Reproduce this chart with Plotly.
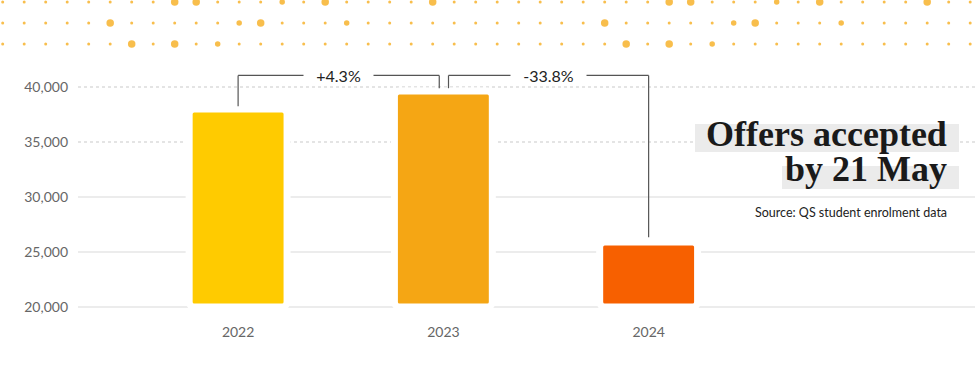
import plotly.graph_objects as go

# ---------------- data ----------------
years = ["2022", "2023", "2024"]
offers = [38000, 39640, 25900]
bar_colors = ["#FFCB00", "#F5A614", "#F76000"]
changes = ["+4.3%", "-33.8%"]
y_ticks = [20000, 25000, 30000, 35000, 40000]
y_tick_labels = ["20,000", "25,000", "30,000", "35,000", "40,000"]
title_lines = ["Offers accepted", "by 21 May"]
source_text = "Source: QS student enrolment data"

# decorative dot pattern (repeats every 23 columns)
dot_period = 23
dot_cols = 46
big_dots = {0: [8, 9, 15, 20], 1: [5, 12], 2: [6, 8]}
mid_dots = {0: [13], 1: [11, 16], 2: [10]}

# ---------------- geometry helpers ----------------
W, H = 975, 369
BASE = 20000


def px_x(p):
    return p / W


def px_y(p):
    return (H - p) / H


fig = go.Figure()

fig.add_trace(go.Bar(
    x=years,
    y=[v - BASE for v in offers],
    base=[BASE] * len(offers),
    width=0.477,
    marker=dict(color=bar_colors, line=dict(color="white", width=7)),
    hoverinfo="skip",
    xaxis="x", yaxis="y",
))

dx, dy = [], []
sizes = []
row_y = [2, 23, 44]
for r in range(3):
    for c in range(dot_cols):
        dx.append(2.7 + 21.5 * c)
        dy.append(row_y[r])
        k = c % dot_period
        if k in big_dots[r]:
            sizes.append(7.5)
        elif k in mid_dots[r]:
            sizes.append(5.5)
        else:
            sizes.append(3)
fig.add_trace(go.Scatter(
    x=dx, y=dy, mode="markers",
    marker=dict(color="#F5A300", size=sizes, line=dict(width=0)),
    hoverinfo="skip", cliponaxis=False,
    xaxis="x2", yaxis="y2",
))

shapes = []
for t in y_ticks:
    dotted = t > 30000
    shapes.append(dict(
        type="line", xref="paper", yref="y",
        x0=px_x(78), x1=1, y0=t, y1=t, layer="below",
        line=dict(color="#c9c9c9" if dotted else "#e6e6e6",
                  width=1 if dotted else 1.5,
                  dash="dot" if dotted else "solid"),
    ))

shapes.append(dict(type="rect", xref="paper", yref="paper",
                   x0=px_x(695), x1=px_x(959), y0=px_y(152), y1=px_y(124),
                   fillcolor="#ebebeb", line=dict(width=0), layer="below"))
shapes.append(dict(type="rect", xref="paper", yref="paper",
                   x0=px_x(782), x1=px_x(959), y0=px_y(189), y1=px_y(166),
                   fillcolor="#ebebeb", line=dict(width=0), layer="below"))

bracket_level = 41050
leg_gap = 250
annotations = []
for i, label in enumerate(changes):
    xa = i + (0.0 if i == 0 else 0.025)
    xb = i + 1 + (-0.02 if i == 0 else 0.0)
    ya = offers[i] + leg_gap
    yb = offers[i + 1] + (leg_gap if i == 0 else 450)
    line = dict(color="#555555", width=1.2)
    shapes.append(dict(type="line", xref="x", yref="y", x0=xa, x1=xa,
                       y0=ya, y1=bracket_level, line=line, layer="above"))
    shapes.append(dict(type="line", xref="x", yref="y", x0=xa, x1=xb,
                       y0=bracket_level, y1=bracket_level, line=line, layer="above"))
    shapes.append(dict(type="line", xref="x", yref="y", x0=xb, x1=xb,
                       y0=bracket_level, y1=yb, line=line, layer="above"))
    annotations.append(dict(
        xref="x", yref="y", x=(xa + xb) / 2, y=bracket_level,
        text="\u00a0\u00a0\u00a0" + label + "\u00a0\u00a0\u00a0",
        showarrow=False, bgcolor="white", borderpad=0,
        font=dict(family="Lato", size=16, color="#222222"),
        xanchor="center", yanchor="middle",
    ))

annotations.append(dict(
    xref="paper", yref="paper", x=px_x(949), y=px_y(134),
    text="<b>" + title_lines[0] + "</b>", showarrow=False,
    xanchor="right", yanchor="middle",
    font=dict(family="Liberation Serif", size=36, color="#1a1a1a"),
))
annotations.append(dict(
    xref="paper", yref="paper", x=px_x(949), y=px_y(169),
    text="<b>" + title_lines[1] + "</b>", showarrow=False,
    xanchor="right", yanchor="middle",
    font=dict(family="Liberation Serif", size=36, color="#1a1a1a"),
))
annotations.append(dict(
    xref="paper", yref="paper", x=px_x(949), y=px_y(213),
    text=source_text, showarrow=False,
    xanchor="right", yanchor="middle",
    font=dict(family="Lato", size=12.5, color="#222222"),
))

# plot area: 78..900 px horizontally (category scale kept equal), 60..322 px vertically
px_per_unit = 11 / 1000.0
top_px, bottom_px = 60, 322
grid20_px = 307
y_lo = BASE - (bottom_px - grid20_px) / px_per_unit
y_hi = BASE + (grid20_px - top_px) / px_per_unit
x_right_px = 900
x_hi = -0.78 + (x_right_px - 78) / (897 / 4.37)

fig.update_layout(
    width=W, height=H, autosize=False,
    margin=dict(l=0, r=0, t=0, b=0),
    paper_bgcolor="white", plot_bgcolor="rgba(0,0,0,0)",
    showlegend=False,
    barcornerradius=5,
    xaxis=dict(
        domain=[px_x(78), px_x(x_right_px)], range=[-0.78, x_hi], type="category",
        showgrid=False, zeroline=False, showline=False, ticks="",
        tickfont=dict(family="Lato", size=14, color="#666666"),
        fixedrange=True,
    ),
    yaxis=dict(
        domain=[px_y(bottom_px), px_y(top_px)], range=[y_lo, y_hi],
        tickvals=y_ticks, ticktext=y_tick_labels,
        showgrid=False, zeroline=False, showline=False, ticks="",
        ticklabelstandoff=9,
        tickfont=dict(family="Lato", size=14, color="#666666"),
        fixedrange=True,
    ),
    xaxis2=dict(domain=[0, 1], range=[0, W], visible=False, anchor="y2",
                fixedrange=True),
    yaxis2=dict(domain=[px_y(50), 1], range=[50, 0], visible=False,
                anchor="x2", fixedrange=True),
    shapes=shapes,
    annotations=annotations,
)

page_css = (
    "html,body{margin:0;padding:0;overflow:hidden;}"
    "::-webkit-scrollbar{display:none;width:0;height:0;}"
)
fig.write_html(
    "out.html",
    config={"displayModeBar": False},
    post_script=(
        "var s=document.createElement('style');"
        "s.innerHTML='" + page_css + "';"
        "document.head.appendChild(s);"
    ),
)
